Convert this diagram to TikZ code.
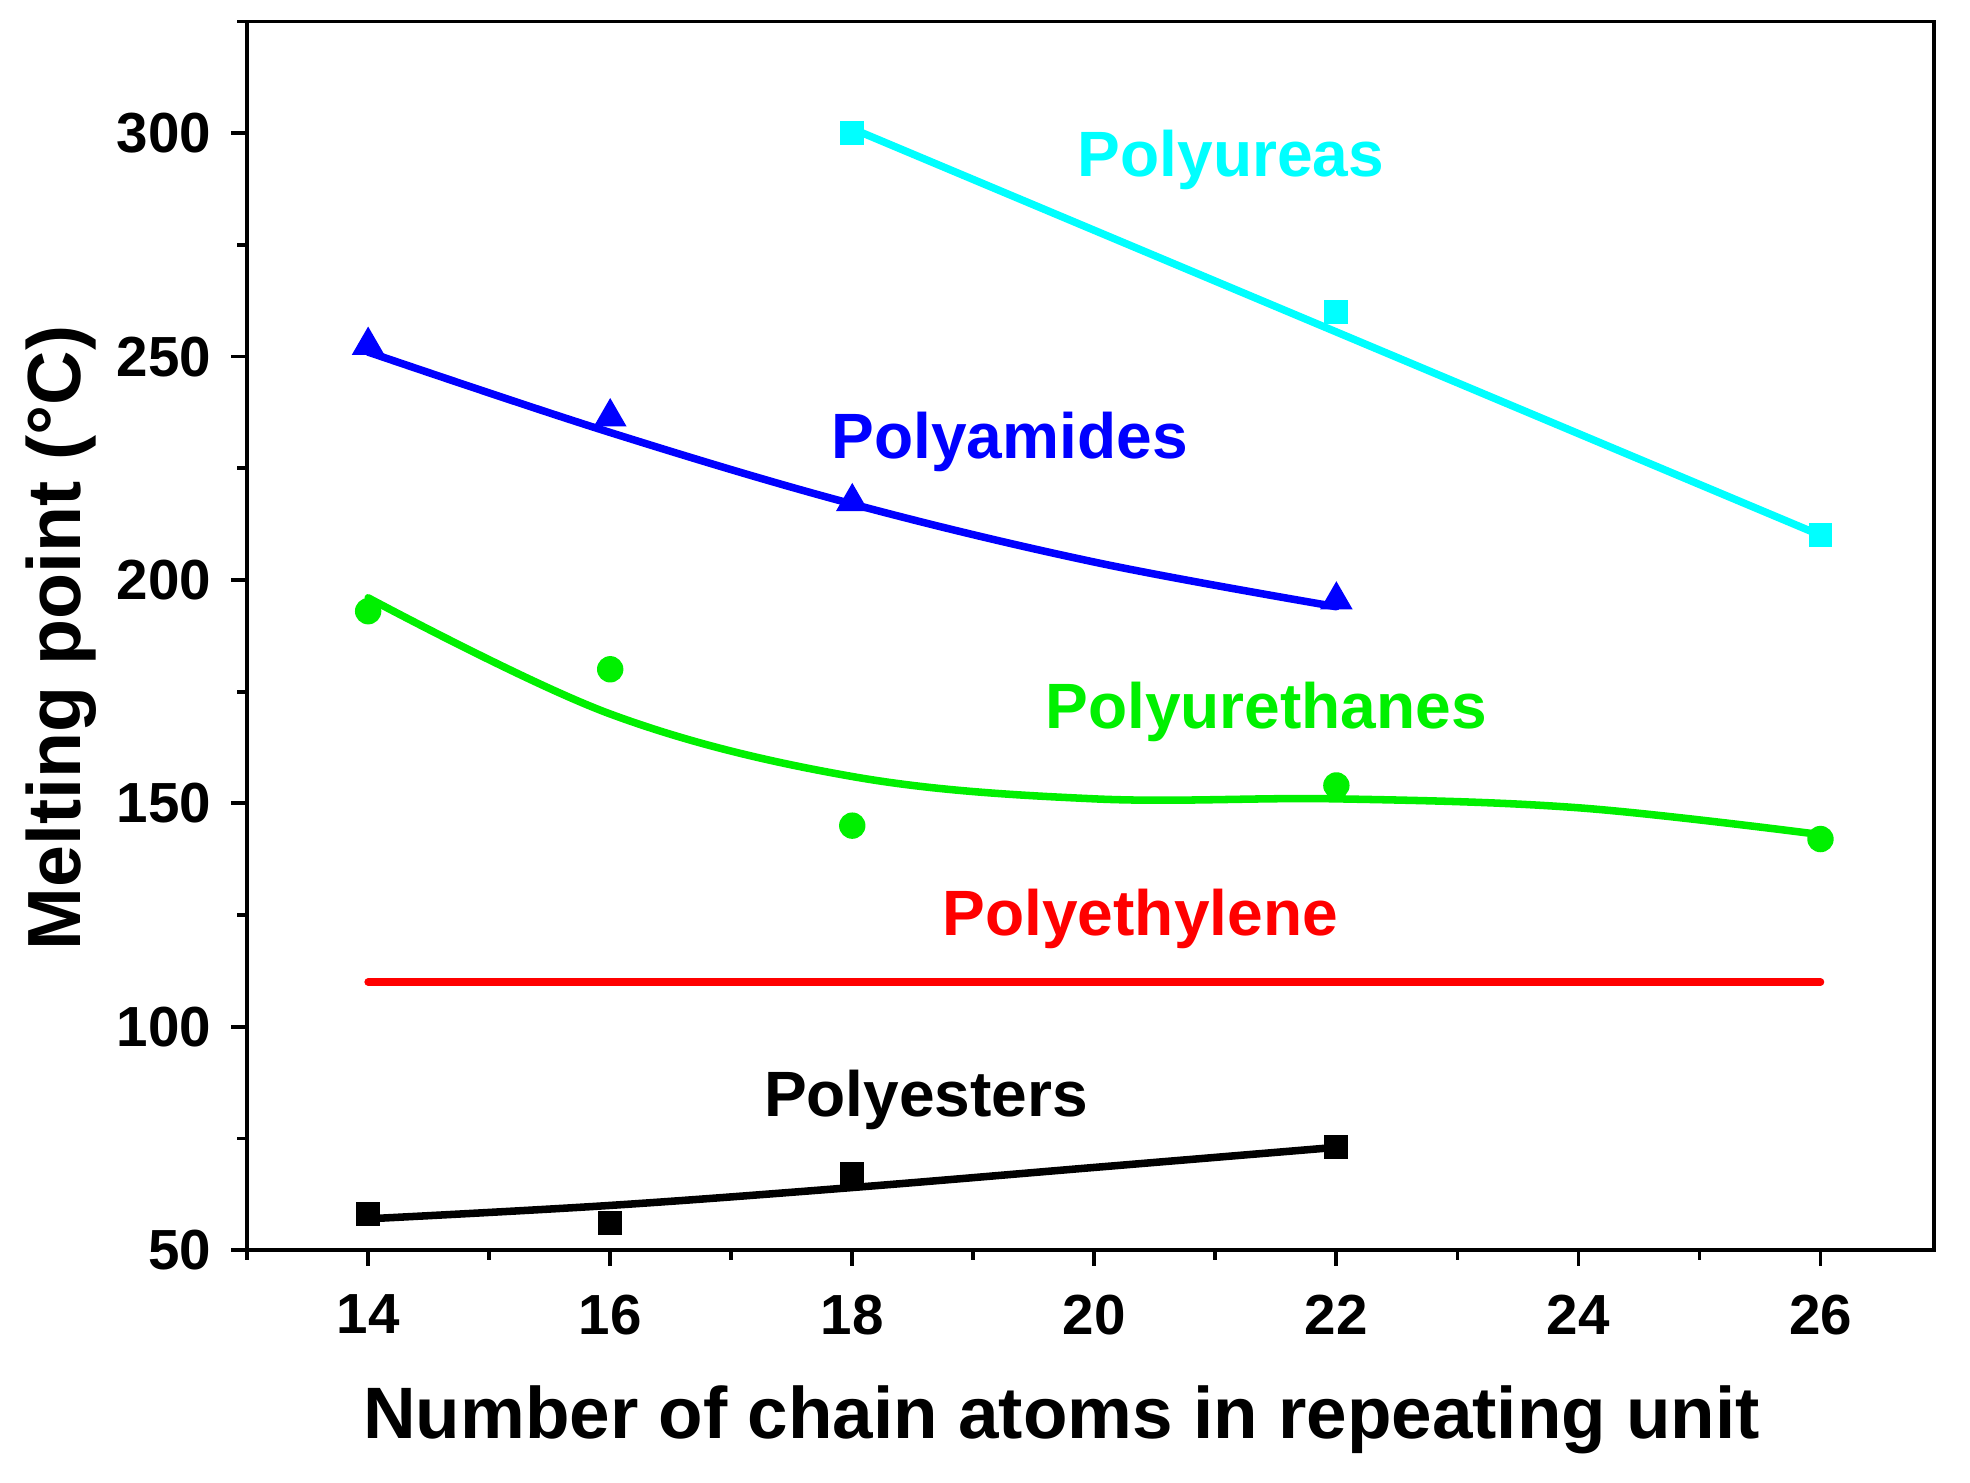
\documentclass[tikz,border=0pt]{standalone}
\usepackage{fontspec}
\setmainfont{Liberation Sans}
\usetikzlibrary{shapes.geometric}
\definecolor{cy}{RGB}{0,255,255}
\definecolor{bl}{RGB}{0,0,255}
\definecolor{gr}{RGB}{0,240,0}
\definecolor{rd}{RGB}{255,0,0}
\tikzset{
 fit/.style={line width=6pt,line cap=round},
 sq/.style={rectangle,fill,inner sep=0pt,minimum size=19pt},
 tri/.style={regular polygon,regular polygon sides=3,fill,inner sep=0pt,minimum size=30pt},
 dot/.style={circle,fill,inner sep=0pt,minimum size=21pt},
 lab/.style={font=\fontsize{51}{55}\selectfont\bfseries},
 tl/.style={font=\fontsize{45}{49}\selectfont\bfseries},
}
\begin{document}
\begin{tikzpicture}
\useasboundingbox (0pt,0pt) rectangle (1568pt,1180pt);
\begin{scope}[x=96.33pt,y=3.556pt,shift={(-1055.6pt,7.2pt)}]
\draw[line width=3pt] (13,50) rectangle (26.94,325);
\foreach \i in {14,16,...,26}{\draw[line width=3pt] (\i,50) -- ++(0,-13pt);
  \node[tl,anchor=north] at (\i,41) {\i};}
\foreach \i in {13,15,...,25}{\draw[line width=3pt] (\i,50) -- ++(0,-8pt);}
\foreach \v in {50,100,...,300}{\draw[line width=3pt] (13,\v) -- ++(-13pt,0);
  \node[tl,anchor=east] at (12.74,\v) {\v};}
\foreach \v in {75,125,...,325}{\draw[line width=3pt] (13,\v) -- ++(-8pt,0);}
\node[font=\fontsize{58}{62}\selectfont\bfseries] (xt) at (19.73,12) {Number of chain atoms in repeating unit};
\node[font=\fontsize{60}{64}\selectfont\bfseries,rotate=90] (yt) at (11.46,187) {Melting point (°C)};
\draw[fit,cy] (18,301) -- (26,210);
\foreach \x/\y in {18/300,22/260,26/210} \node[sq,cy] at (\x,\y) {};
\node[lab,cy] (l1) at (21.13,294) {Polyureas};
\draw[fit,bl] plot[smooth,tension=0.6] coordinates {(14,251) (16,233) (18,217) (20,204) (22,194)};
\foreach \x/\y in {14/251,16/235,18/216,22/194} \node[tri,bl] at (\x,\y+1.5) {};
\node[lab,bl] (l2) at (19.3,230.8) {Polyamides};
\draw[fit,gr] plot[smooth,tension=0.6] coordinates {(14,196) (16,170) (18,156) (20,151) (22,151) (24,149) (26,143)};
\foreach \x/\y in {14/193,16/180,18/145,22/154,26/142} \node[dot,gr] at (\x,\y) {};
\node[lab,gr] (l3) at (21.42,170.4) {Polyurethanes};
\draw[fit,rd] (14,110) -- (26,110);
\node[lab,rd] (l4) at (20.38,124.2) {Polyethylene};
\draw[fit,black] plot[smooth,tension=0.6] coordinates {(14,57) (16,60) (18,64) (20,68.5) (22,73)};
\foreach \x/\y in {14/58,16/56,18/67,22/73} \node[sq,black] at (\x,\y) {};
\node[lab,black] (l5) at (18.61,83.5) {Polyesters};
\end{scope}
\end{tikzpicture}
\end{document}
